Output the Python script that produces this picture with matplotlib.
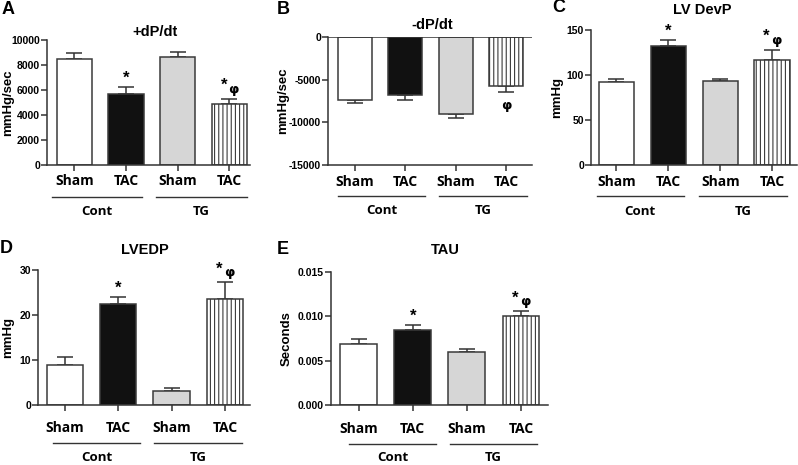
import matplotlib
matplotlib.use("Agg")
import matplotlib.pyplot as plt
import matplotlib.transforms as mtransforms
from matplotlib.ticker import FormatStrFormatter

# ---------------- data ----------------
conditions = ["Sham", "TAC", "Sham", "TAC"]
groups = ["Cont", "TG"]

dpdt_plus = [8500, 5700, 8650, 4850]
dpdt_plus_err = [450, 500, 400, 450]

dpdt_minus = [-7350, -6800, -9000, -5800]
dpdt_minus_err = [350, 550, 500, 600]

lv_devp = [92.5, 132, 93, 117]
lv_devp_err = [2.5, 7, 2, 11]

lvedp = [8.8, 22.4, 3.2, 23.6]
lvedp_err = [1.8, 1.5, 0.5, 3.7]

tau = [0.0069, 0.0085, 0.0060, 0.0100]
tau_err = [0.0005, 0.0005, 0.0003, 0.0006]

marks_std = ["", "*", "", "*φ"]
marks_b = ["", "", "", "φ"]

W, H = 798, 465
DPI = 100
plt.rcParams["hatch.linewidth"] = 0.8
plt.rcParams["axes.unicode_minus"] = False
fig = plt.figure(figsize=(W / DPI, H / DPI), dpi=DPI)

AXC = "#333333"
TICKFONT = dict(family="Liberation Sans", weight="bold", size=7.5)
CATFONT = dict(family="Open Sans", weight="bold", size=10)
GRPFONT = dict(family="Open Sans", weight="bold", size=9.5)

face = ["white", "#111111", "#d6d6d6", "white"]
hatches = [None, None, None, "||||"]


def make_ax(x0, x1, ytop, ybot):
    return fig.add_axes([x0 / W, 1 - ybot / H, (x1 - x0) / W, (ybot - ytop) / H])


def panel(box, xlim, glines, vals, errs, ylim, yticks, ylabel, ylab_right, title,
          title_xy, letter, letter_xy, marks, offs, fmt=None, negative=False):
    ax = make_ax(*box)
    x = list(range(len(vals)))
    for i in x:
        ax.bar(i, vals[i], width=0.68, color=face[i], edgecolor="#3a3a3a",
               linewidth=1.1, hatch=hatches[i], zorder=2)
    if negative:
        yerr = [errs, [0] * len(errs)]
    else:
        yerr = [[0] * len(errs), errs]
    ax.errorbar(x, vals, yerr=yerr, fmt="none", ecolor=AXC, elinewidth=1.1,
                capsize=6, capthick=1.1, zorder=1)
    ax.set_ylim(*ylim)
    ax.set_xlim(*xlim)
    ax.set_yticks(yticks)
    if fmt:
        ax.yaxis.set_major_formatter(FormatStrFormatter(fmt))
    for lab in ax.get_yticklabels():
        lab.set_fontfamily(TICKFONT["family"])
        lab.set_fontweight("bold")
        lab.set_fontsize(TICKFONT["size"])
    ax.set_xticks(x)
    ax.set_xticklabels([])
    for s in ["top", "right"]:
        ax.spines[s].set_visible(False)
    for s in ["left", "bottom"]:
        ax.spines[s].set_color(AXC)
        ax.spines[s].set_linewidth(1.1)
    ax.tick_params(axis="both", color=AXC, width=1.1, length=4, pad=1)
    if negative:
        ax.axhline(0, color=AXC, lw=1.1, zorder=3)
    ax.set_ylabel(ylabel, fontfamily="Liberation Sans", fontweight="bold", fontsize=9.5)
    wpx = box[1] - box[0]
    ax.yaxis.set_label_coords((ylab_right - box[0]) / wpx, 0.5)

    hpx = box[3] - box[2]
    trans = mtransforms.blended_transform_factory(ax.transData, ax.transAxes)
    cat_off, line_off, grp_off = offs
    for i, c in enumerate(conditions):
        ax.text(i, -cat_off / hpx, c, transform=trans, ha="center", va="center", **CATFONT)
    for (a, b), g in zip(glines, groups):
        ax.plot([a, b], [-line_off / hpx] * 2, transform=trans, color=AXC, lw=1.0,
                clip_on=False)
        ax.text((a + b) / 2, -grp_off / hpx, g, transform=trans, ha="center", va="center",
                **GRPFONT)

    # significance marks
    for i, m in enumerate(marks):
        if not m:
            continue
        if negative:
            ybase = vals[i] - errs[i]
            ax.annotate("φ", (i, ybase), xytext=(0, -5), textcoords="offset points",
                        ha="center", va="top", fontfamily="DejaVu Sans",
                        fontweight="bold", fontsize=9.5)
            continue
        ytop = vals[i] + errs[i]
        if m == "*":
            ax.annotate("*", (i, ytop), xytext=(0, 1), textcoords="offset points",
                        ha="center", va="bottom", fontfamily="Liberation Sans",
                        fontweight="bold", fontsize=12)
        else:
            ax.annotate("*", (i, ytop), xytext=(-4, 4), textcoords="offset points",
                        ha="center", va="bottom", fontfamily="Liberation Sans",
                        fontweight="bold", fontsize=12)
            ax.annotate("φ", (i, ytop), xytext=(3, 2), textcoords="offset points",
                        ha="center", va="bottom", fontfamily="DejaVu Sans",
                        fontweight="bold", fontsize=9.5)

    fig.text(title_xy[0] / W, 1 - title_xy[1] / H, title, ha="center", va="center",
             fontfamily="Liberation Sans", fontweight="bold", fontsize=10.5)
    fig.text(letter_xy[0] / W, 1 - letter_xy[1] / H, letter, ha="center", va="center",
             fontfamily="Liberation Sans", fontweight="bold", fontsize=13)
    return ax


panel((47, 250, 40, 165), (-0.53, 3.4), [(-0.43, 1.31), (1.58, 3.34)],
      dpdt_plus, dpdt_plus_err, (0, 10000),
      [0, 2000, 4000, 6000, 8000, 10000], "mmHg/sec", 14, "+dP/dt", (155, 32), "A", (8, 9),
      marks_std, (16, 32, 46))

panel((328, 532, 37, 165), (-0.54, 3.52), [(-0.34, 1.39), (1.67, 3.42)],
      dpdt_minus, dpdt_minus_err, (-15000, 0),
      [-15000, -10000, -5000, 0], "mmHg/sec", 289, "-dP/dt", (432, 25), "B", (283, 9),
      marks_b, (17, 31, 45), negative=True)

panel((591, 797, 30, 165), (-0.49, 3.48), [(-0.38, 1.30), (1.59, 3.29)],
      lv_devp, lv_devp_err, (0, 150),
      [0, 50, 100, 150], "mmHg", 563, "LV DevP", (702, 10), "C", (559, 8),
      marks_std, (17, 31, 46))

panel((38, 250, 270, 405), (-0.5, 3.47), [(-0.22, 1.41), (1.67, 3.32)],
      lvedp, lvedp_err, (0, 30),
      [0, 10, 20, 30], "mmHg", 14, "LVEDP", (145, 250), "D", (6, 248),
      marks_std, (23, 38, 52))

panel((331, 548, 272, 405), (-0.51, 3.5), [(-0.18, 1.43), (1.69, 3.29)],
      tau, tau_err, (0, 0.015),
      [0, 0.005, 0.010, 0.015], "Seconds", 293, "TAU", (445, 250), "E", (283, 249),
      marks_std, (24, 39, 52), fmt="%.3f")

fig.savefig("out.png", dpi=DPI)
